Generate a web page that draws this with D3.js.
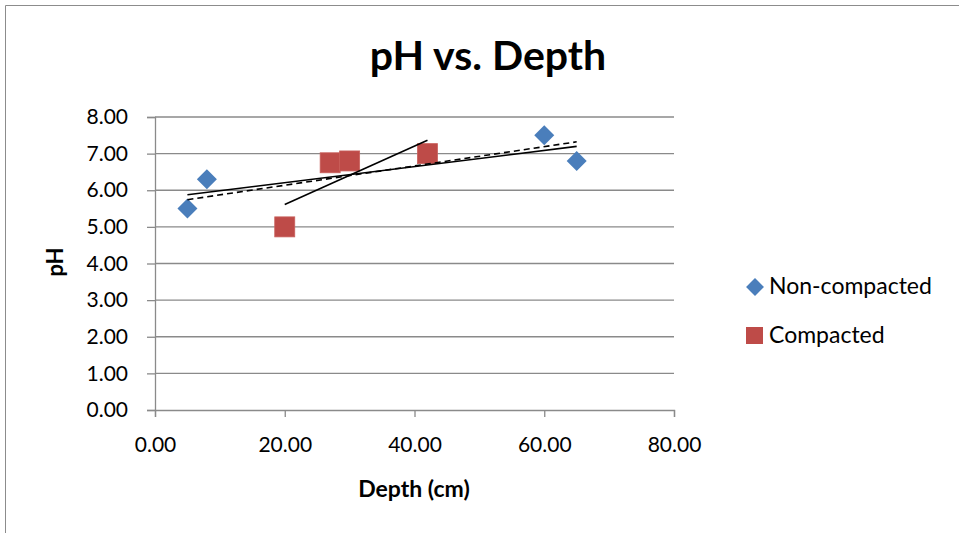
<!DOCTYPE html>
<html>
<head>
<meta charset="utf-8">
<script src="https://d3js.org/d3.v7.min.js"></script>
<style>
  html, body { margin: 0; padding: 0; background: #fff; }
  svg { display: block; font-family: Lato, "Open Sans", sans-serif; }
</style>
</head>
<body>
<div id="chart"></div>
<script>
// Depth (cm) and pH for each series
const nonCompactedDepth = [5, 8, 60, 65];
const nonCompactedPH = [5.5, 6.3, 7.5, 6.8];
const compactedDepth = [20, 27, 30, 42];
const compactedPH = [5.0, 6.75, 6.8, 7.0];

const xTicks = [0, 20, 40, 60, 80];
const yTicks = [0, 1, 2, 3, 4, 5, 6, 7, 8];

const width = 959, height = 533;
const plot = { left: 155, right: 674, top: 117, bottom: 410 };

const svg = d3.select("#chart").append("svg")
    .attr("width", width)
    .attr("height", height);

// chart frame (only top and left edges visible in the crop)
svg.append("path")
    .attr("d", `M5.5,${height} L5.5,5.5 L${width},5.5`)
    .attr("fill", "none")
    .attr("stroke", "#8c8c8c")
    .attr("stroke-width", 1);

const x = d3.scaleLinear().domain([0, 80]).range([plot.left, plot.right]);
const y = d3.scaleLinear().domain([0, 8]).range([plot.bottom, plot.top]);

// gridlines
svg.append("g")
    .selectAll("line")
    .data(yTicks.filter(d => d > 0))
    .enter()
    .append("line")
    .attr("x1", plot.left)
    .attr("x2", plot.right)
    .attr("y1", d => y(d))
    .attr("y2", d => y(d))
    .attr("stroke", "#8a8a8a")
    .attr("stroke-width", 1.3);

// y axis
const yAxis = svg.append("g")
    .attr("transform", `translate(${plot.left},0)`)
    .call(d3.axisLeft(y).tickValues(yTicks).tickFormat(d3.format(".2f")).tickSize(8).tickPadding(19));

// x axis
const xAxis = svg.append("g")
    .attr("transform", `translate(0,${plot.bottom})`)
    .call(d3.axisBottom(x).tickValues(xTicks).tickFormat(d3.format(".2f")).tickSize(7).tickPadding(20));

[yAxis, xAxis].forEach(ax => {
    ax.select(".domain").attr("stroke", "#8a8a8a").attr("stroke-width", 1.3);
    ax.selectAll(".tick line").attr("stroke", "#8a8a8a").attr("stroke-width", 1.3);
    ax.selectAll(".tick text")
        .attr("fill", "#000")
        .style("font-size", "21px")
        .style("font-family", "Lato, sans-serif");
});

// least-squares trendline
function fit(xs, ys) {
    const n = xs.length;
    const mx = d3.mean(xs), my = d3.mean(ys);
    let sxy = 0, sxx = 0;
    for (let i = 0; i < n; i++) {
        sxy += (xs[i] - mx) * (ys[i] - my);
        sxx += (xs[i] - mx) * (xs[i] - mx);
    }
    const slope = sxy / sxx;
    return v => my + slope * (v - mx);
}

const line = d3.line().x(d => x(d[0])).y(d => y(d[1]));

function drawTrend(xs, ys, x0, x1, dash) {
    const f = fit(xs, ys);
    svg.append("path")
        .datum([[x0, f(x0)], [x1, f(x1)]])
        .attr("d", line)
        .attr("fill", "none")
        .attr("stroke", "#000")
        .attr("stroke-width", 1.6)
        .attr("stroke-dasharray", dash || null);
}

const allDepth = nonCompactedDepth.concat(compactedDepth);
const allPH = nonCompactedPH.concat(compactedPH);

// markers
svg.append("g")
    .selectAll("path")
    .data(nonCompactedDepth.map((d, i) => [d, nonCompactedPH[i]]))
    .enter()
    .append("path")
    .attr("d", d3.symbol().type(d3.symbolSquare).size(200))
    .attr("transform", d => `translate(${x(d[0])},${y(d[1])}) rotate(45)`)
    .attr("fill", "#4a7ebb");

svg.append("g")
    .selectAll("rect")
    .data(compactedDepth.map((d, i) => [d, compactedPH[i]]))
    .enter()
    .append("rect")
    .attr("x", d => x(d[0]) - 10)
    .attr("y", d => y(d[1]) - 10)
    .attr("width", 20)
    .attr("height", 20)
    .attr("fill", "#be4b48")
    .attr("stroke", "#c9605c")
    .attr("stroke-width", 0.8);

drawTrend(nonCompactedDepth, nonCompactedPH, d3.min(nonCompactedDepth), d3.max(nonCompactedDepth));
drawTrend(allDepth, allPH, d3.min(allDepth), d3.max(allDepth), "6,4");
drawTrend(compactedDepth, compactedPH, d3.min(compactedDepth), d3.max(compactedDepth));

// title
svg.append("text")
    .attr("x", 488)
    .attr("y", 70)
    .attr("text-anchor", "middle")
    .style("font-size", "41px")
    .style("font-weight", "bold")
    .text("pH vs. Depth");

// axis titles
svg.append("text")
    .attr("x", 414)
    .attr("y", 497)
    .attr("text-anchor", "middle")
    .style("font-size", "23px")
    .style("font-weight", "bold")
    .text("Depth (cm)");

svg.append("text")
    .attr("transform", "translate(63,262) rotate(-90)")
    .attr("text-anchor", "middle")
    .style("font-size", "22px")
    .style("font-weight", "bold")
    .text("pH");

// legend
const legend = svg.append("g").attr("transform", "translate(755,0)");
legend.append("path")
    .attr("d", d3.symbol().type(d3.symbolSquare).size(160))
    .attr("transform", "translate(0,287) rotate(45)")
    .attr("fill", "#4a7ebb");
legend.append("text")
    .attr("x", 14)
    .attr("y", 294)
    .style("font-size", "23px")
    .text("Non-compacted");
legend.append("rect")
    .attr("x", -9)
    .attr("y", 327)
    .attr("width", 17)
    .attr("height", 17)
    .attr("fill", "#be4b48");
legend.append("text")
    .attr("x", 14)
    .attr("y", 343)
    .style("font-size", "23px")
    .text("Compacted");
</script>
</body>
</html>
